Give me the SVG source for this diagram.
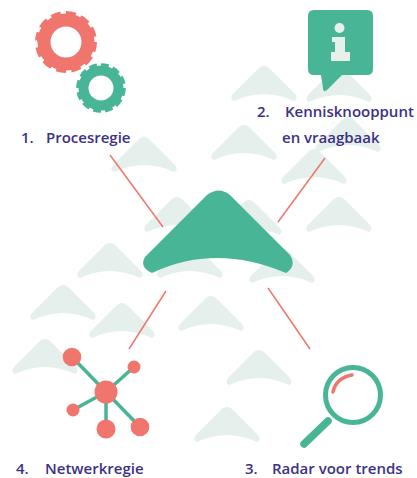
<svg xmlns="http://www.w3.org/2000/svg" width="417" height="478" viewBox="0 0 417 478">
<style>
.g{fill:#47b596}.c{fill:#f0766d}
.t{font-family:"Open Sans","Liberation Sans",sans-serif;font-size:15px;font-weight:600;fill:#3b3187}
.l{stroke:#f0766d;stroke-width:1.500;fill:none}
.e{stroke:#47b596;stroke-width:3.500;fill:none}
.b{fill:#e5efec}
</style>
<defs>
<path id="chev" d="M-5,2Q0,-2 5,2L31,28Q35,33 30,35Q0,21 -30,35Q-35,33 -31,28Z"/>
</defs>
<rect width="417" height="478" fill="#fff"/>
<g id="background" class="b">
<use href="#chev" x="264" y="66"/><use href="#chev" x="339" y="67"/><use href="#chev" x="244" y="125"/>
<use href="#chev" x="348" y="117"/><use href="#chev" x="144" y="137"/><use href="#chev" x="314" y="149"/>
<use href="#chev" x="177" y="197"/><use href="#chev" x="249" y="200"/><use href="#chev" x="339" y="197"/>
<use href="#chev" x="110" y="243"/><use href="#chev" x="190" y="243"/><use href="#chev" x="282" y="248"/>
<use href="#chev" x="63" y="285"/><use href="#chev" x="211" y="296"/><use href="#chev" x="122" y="303"/>
<use href="#chev" x="45" y="339"/><use href="#chev" x="259" y="350"/><use href="#chev" x="227" y="407"/>
</g>
<g id="connectors">
<path class="l" d="M110,155L163,227"/><path class="l" d="M325,158L278,222"/>
<path class="l" d="M166,291L129,349"/><path class="l" d="M268,288L310,349"/>
</g>
<g id="center">
<path class="g" d="M207,195Q219,186 230,195L290,255Q297,266 286,273Q215,243 152,273Q139,267 145,257Z"/>
</g>
<g id="node1">
<circle cx="66" cy="42" r="22" fill="none" stroke="#f0766d" stroke-width="13"/>
<circle cx="66" cy="42" r="28.500" fill="none" stroke="#f0766d" stroke-width="5" pathLength="120" stroke-dasharray="6.500 3.500"/>
<circle cx="101" cy="88" r="17.500" fill="none" stroke="#47b596" stroke-width="10"/>
<circle cx="101" cy="88" r="22.800" fill="none" stroke="#47b596" stroke-width="4" pathLength="120" stroke-dasharray="6.500 3.500"/>
<text class="t" x="21" y="143">1.</text><text class="t" x="46" y="143">Procesregie</text>
</g>
<g id="node2">
<path class="g" d="M314,10H367Q373,10 373,16V69Q373,75 367,75H342L327,90Q323,93 323,88L321,75H314Q308,75 308,69V16Q308,10 314,10Z"/>
<g fill="#e8f0ec"><circle cx="339.500" cy="28" r="5"/><rect x="332" y="37" width="13" height="5"/><rect x="335" y="37" width="10" height="20"/><rect x="331" y="52" width="19" height="9"/></g>
<text class="t" x="257" y="117">2.</text><text class="t" x="285" y="117">Kennisknooppunt</text>
<text class="t" x="282" y="143">en vraagbaak</text>
</g>
<g id="node3">
<circle cx="353" cy="395" r="27.500" fill="none" stroke="#47b596" stroke-width="5"/>
<path d="M328,421L304,444" stroke="#47b596" stroke-width="7.500" stroke-linecap="round" fill="none"/>
<path d="M333,392Q336,378 352,375" stroke="#f0766d" stroke-width="3.500" stroke-linecap="round" fill="none"/>
<text class="t" x="245" y="473.500">3.</text><text class="t" x="272" y="473.500">Radar voor trends</text>
</g>
<g id="node4">
<path class="e" d="M106,392L72,357M106,392L134,367M106,392L73,410M106,392V429M106,392L140,427"/>
<circle class="c" cx="106" cy="392" r="11.500"/><circle class="c" cx="72" cy="357" r="9.300"/>
<circle class="c" cx="134" cy="367" r="6.500"/><circle class="c" cx="73" cy="410" r="6.500"/>
<circle class="c" cx="106" cy="429" r="9.500"/><circle class="c" cx="140" cy="427" r="9.300"/>
<text class="t" x="16" y="473.500">4.</text><text class="t" x="45" y="473.500">Netwerkregie</text>
</g>
</svg>
